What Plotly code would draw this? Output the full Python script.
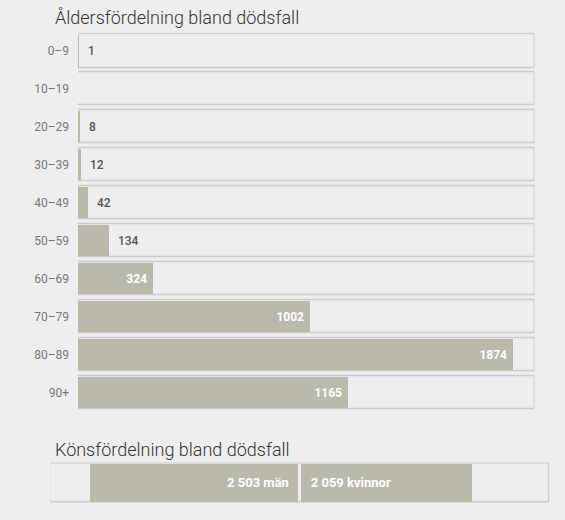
import plotly.graph_objects as go

# ---- data ----
age_groups = ["0–9", "10–19", "20–29", "30–39", "40–49", "50–59", "60–69", "70–79", "80–89", "90+"]
age_deaths = [1, 0, 8, 12, 42, 134, 324, 1002, 1874, 1165]
sex_labels = ["män", "kvinnor"]
sex_deaths = [2503, 2059]
title_age = "Åldersfördelning bland dödsfall"
title_sex = "Könsfördelning bland dödsfall"

# ---- style ----
W, H = 565, 520
BG = "#eeeeee"
BORDER = "#cccccc"
BAR = "#b9baab"
FONT = "Roboto, Arial, sans-serif"
NB = "\u00a0"

def px_x(p):
    return p / W

def px_y(p):
    return 1 - p / H

age_max = max(age_deaths) * 1.05
sex_max = max(sex_deaths) * 1.2
inside_threshold = 300

fig = go.Figure()

# age: background boxes
fig.add_trace(go.Bar(
    y=age_groups, x=[age_max] * len(age_groups), orientation="h",
    marker=dict(color=BG, line=dict(color=BORDER, width=1.5)),
    width=0.87, hoverinfo="skip", showlegend=False,
    xaxis="x", yaxis="y",
))

texts, positions = [], []
for v in age_deaths:
    if v == 0:
        texts.append("")
        positions.append("none")
    elif v >= inside_threshold:
        texts.append(f"{v}{NB}")
        positions.append("inside")
    else:
        texts.append(f"{NB}{NB}{v}")
        positions.append("outside")

fig.add_trace(go.Bar(
    y=age_groups, x=age_deaths, orientation="h",
    marker=dict(color=BAR, line=dict(width=0)),
    width=0.82, text=texts, textposition=positions,
    insidetextanchor="end",
    insidetextfont=dict(family=FONT, size=12, color="white", weight="bold"),
    outsidetextfont=dict(family=FONT, size=12, color="#555555", weight=500),
    constraintext="none", cliponaxis=False,
    showlegend=False, xaxis="x", yaxis="y",
))

# sex: background box
fig.add_trace(go.Bar(
    y=["sex"], x=[2 * sex_max], base=[-sex_max], orientation="h",
    marker=dict(color=BG, line=dict(color=BORDER, width=1.5)),
    width=0.97, hoverinfo="skip", showlegend=False,
    xaxis="x2", yaxis="y2",
))

gap = sex_max * 0.006

def fmt(v):
    return f"{v:,}".replace(",", NB)

fig.add_trace(go.Bar(
    y=["sex"], x=[sex_deaths[0]], base=[-sex_deaths[0] - gap], orientation="h",
    marker=dict(color=BAR, line=dict(width=0)), width=0.94,
    text=[f"{fmt(sex_deaths[0])} {sex_labels[0]}{NB}{NB}"], textposition="inside",
    insidetextanchor="end",
    insidetextfont=dict(family=FONT, size=13, color="white", weight="bold"),
    showlegend=False, xaxis="x2", yaxis="y2",
))
fig.add_trace(go.Bar(
    y=["sex"], x=[sex_deaths[1]], base=[gap], orientation="h",
    marker=dict(color=BAR, line=dict(width=0)), width=0.94,
    text=[f"{NB}{NB}{fmt(sex_deaths[1])} {sex_labels[1]}"], textposition="inside",
    insidetextanchor="start",
    insidetextfont=dict(family=FONT, size=13, color="white", weight="bold"),
    showlegend=False, xaxis="x2", yaxis="y2",
))

fig.update_layout(
    width=W, height=H,
    margin=dict(l=0, r=0, t=0, b=0),
    paper_bgcolor=BG, plot_bgcolor="rgba(0,0,0,0)",
    barmode="overlay", bargap=0,
    font=dict(family=FONT),
    xaxis=dict(domain=[px_x(78), px_x(534.5)], range=[0, age_max],
               visible=False, fixedrange=True),
    yaxis=dict(domain=[px_y(412), px_y(32.3)], autorange="reversed",
               showgrid=False, zeroline=False, showline=False, ticks="",
               ticklabelstandoff=8,
               tickfont=dict(family=FONT, size=12, color="#777777"),
               fixedrange=True),
    xaxis2=dict(domain=[px_x(50.3), px_x(549.5)], range=[-sex_max, sex_max],
                visible=False, fixedrange=True, anchor="y2"),
    yaxis2=dict(domain=[px_y(503), px_y(462.5)], visible=False,
                range=[-0.5, 0.5], fixedrange=True, anchor="x2"),
    annotations=[
        dict(text=title_age, x=px_x(53), y=px_y(18), xref="paper", yref="paper",
             xanchor="left", yanchor="middle", showarrow=False,
             font=dict(family=FONT, size=18, color="#333333", weight=300)),
        dict(text=title_sex, x=px_x(53), y=px_y(449), xref="paper", yref="paper",
             xanchor="left", yanchor="middle", showarrow=False,
             font=dict(family=FONT, size=18, color="#333333", weight=300)),
    ],
)

fig.write_html("out.html")
